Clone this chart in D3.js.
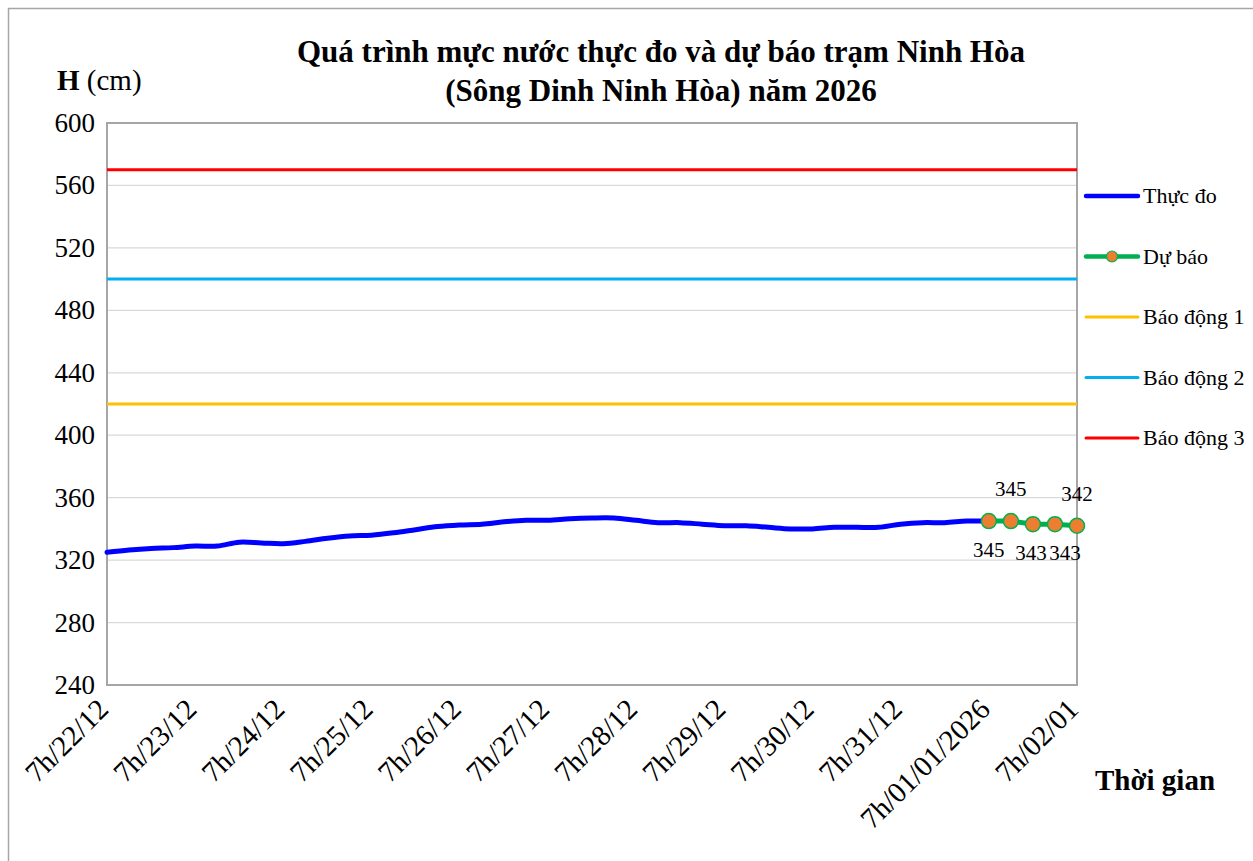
<!DOCTYPE html>
<html><head><meta charset="utf-8">
<script src="https://cdn.jsdelivr.net/npm/d3@7"></script>
<style>body{margin:0;background:#fff}svg{display:block}</style>
</head><body><svg id="c" width="1253" height="861" font-family="'Liberation Serif', 'Times New Roman', serif"></svg>
<script>
// ---- data ----
const tickLabels = ["7h/22/12","7h/23/12","7h/24/12","7h/25/12","7h/26/12","7h/27/12","7h/28/12","7h/29/12","7h/30/12","7h/31/12","7h/01/01/2026","7h/02/01"];
// measured water level every 6 hours from 7h 22/12 to 7h 01/01
const measured = [325,326.5,327.5,328,329,329,331.5,331,330.5,332,334,335.5,336,337.5,339.5,341.5,342.5,343,344.5,345.5,345.5,346.5,347,347,345.5,344,344,343,342,342,341,340,340,341,341,341,343,344,344,345,345];
// forecast every 6 hours from 7h 01/01 to 7h 02/01
const forecast = [345,345,343,343,342];
const forecastLabelPos = ["below","above","below","below","above"];
const alarm1 = 420, alarm2 = 500, alarm3 = 570;
const yTicks = [240,280,320,360,400,440,480,520,560,600];

const svg = d3.select("#c");
const L=107,R=1077,T=123,B=685;
const stepsPerDay = 4;
const x = d3.scaleLinear().domain([0,(tickLabels.length-1)*stepsPerDay]).range([L,R]);
const y = d3.scaleLinear().domain([240,600]).range([B,T]);

// outer frame
svg.append("rect").attr("x",8.5).attr("y",8.5).attr("width",1300).attr("height",900).attr("fill","none").attr("stroke","#A6A6A6").attr("stroke-width",1.5);

// gridlines
svg.append("g").selectAll("line").data(yTicks).join("line")
  .attr("x1",L).attr("x2",R).attr("y1",d=>y(d)).attr("y2",d=>y(d))
  .attr("stroke","#D9D9D9").attr("stroke-width",1.3);

// y axis labels
svg.append("g").selectAll("text").data(yTicks).join("text")
  .attr("x",95).attr("y",d=>y(d)+9).attr("text-anchor","end")
  .attr("font-size",27).attr("fill","#000").text(d=>d);

// plot border
svg.append("rect").attr("x",L).attr("y",T).attr("width",R-L).attr("height",B-T)
  .attr("fill","none").attr("stroke","#A6A6A6").attr("stroke-width",2);

// alarm lines
const alarms=[{v:alarm1,c:"#FFC000"},{v:alarm2,c:"#00B0F0"},{v:alarm3,c:"#FF0000"}];
svg.append("g").selectAll("line").data(alarms).join("line")
  .attr("x1",L).attr("x2",R).attr("y1",d=>y(d.v)).attr("y2",d=>y(d.v))
  .attr("stroke",d=>d.c).attr("stroke-width",3);

// measured line
const line = d3.line().x(d=>x(d.i)).y(d=>y(d.v)).curve(d3.curveCatmullRom.alpha(0.5));
svg.append("path").datum(measured.map((v,i)=>({i,v})))
  .attr("d",line).attr("fill","none").attr("stroke","#0000FF").attr("stroke-width",5).attr("stroke-linecap","round");

// forecast
const off = measured.length-1;
const fdata = forecast.map((v,k)=>({i:off+k,k,v,pos:forecastLabelPos[k]}));
svg.append("path").datum(fdata).attr("d",d3.line().x(d=>x(d.i)).y(d=>y(d.v)))
  .attr("fill","none").attr("stroke","#00B050").attr("stroke-width",5);
svg.append("g").selectAll("circle").data(fdata).join("circle")
  .attr("cx",d=>x(d.i)).attr("cy",d=>y(d.v)).attr("r",7.5)
  .attr("fill","#ED7D31").attr("stroke","#00B050").attr("stroke-width",1.5);
svg.append("g").selectAll("text").data(fdata).join("text")
  .attr("x",d=>x(d.i) + (d.k===3 ? 10 : 0) - (d.k===2 ? 2 : 0))
  .attr("y",d=>d.pos==="above"? y(d.v)-25 : y(d.v)+36)
  .attr("text-anchor","middle").attr("font-size",21).attr("fill","#000").text(d=>d.v);

// x tick labels
svg.append("g").selectAll("text").data(tickLabels).join("text")
  .attr("transform",(d,i)=>`translate(${x(i*stepsPerDay)+3},${B+26}) rotate(-45)`)
  .attr("text-anchor","end").attr("font-size",29).attr("fill","#000").text(d=>d);

// titles
svg.append("text").attr("x",661).attr("y",62).attr("text-anchor","middle").attr("font-size",31).attr("font-weight","bold").text("Quá trình mực nước thực đo và dự báo trạm Ninh Hòa");
svg.append("text").attr("x",661).attr("y",101).attr("text-anchor","middle").attr("font-size",31).attr("font-weight","bold").text("(Sông Dinh Ninh Hòa) năm 2026");
const h = svg.append("text").attr("x",57).attr("y",90).attr("font-size",29);
h.append("tspan").attr("font-weight","bold").text("H");
h.append("tspan").text(" (cm)");
svg.append("text").attr("x",1095).attr("y",790).attr("font-size",29).attr("font-weight","bold").text("Thời gian");

// legend
const legend=[{n:"Thực đo",c:"#0000FF",m:false},{n:"Dự báo",c:"#00B050",m:true},{n:"Báo động 1",c:"#FFC000",m:false},{n:"Báo động 2",c:"#00B0F0",m:false},{n:"Báo động 3",c:"#FF0000",m:false}];
const lg = svg.append("g").selectAll("g").data(legend).join("g")
  .attr("transform",(d,i)=>`translate(1086,${196+i*60.5})`);
lg.append("line").attr("x1",0).attr("x2",52).attr("stroke",d=>d.c).attr("stroke-width",d=>d.m||d.c==="#0000FF"?4.5:3).attr("stroke-linecap","round");
lg.filter(d=>d.m).append("circle").attr("cx",26).attr("r",5.5).attr("fill","#ED7D31").attr("stroke","#00B050").attr("stroke-width",1.2);
lg.append("text").attr("x",57).attr("y",7).attr("font-size",22).text(d=>d.n);
</script></body></html>
